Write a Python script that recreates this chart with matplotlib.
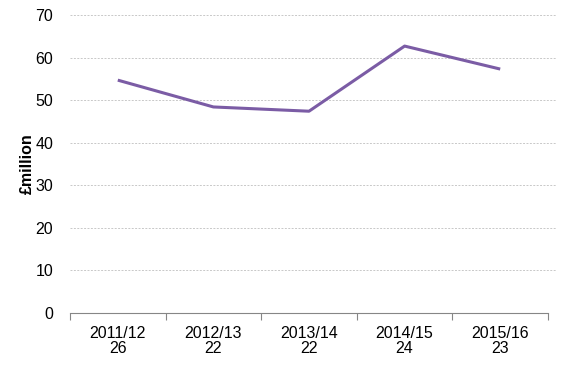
import matplotlib.pyplot as plt
import numpy as np

plt.rcParams['font.family'] = ['Liberation Sans', 'DejaVu Sans']

years = ["2011/12", "2012/13", "2013/14", "2014/15", "2015/16"]
counts = ["26", "22", "22", "24", "23"]
values = [54.7, 48.4, 47.4, 62.7, 57.3]
yticks = [0, 10, 20, 30, 40, 50, 60, 70]

fig = plt.figure(figsize=(5.73, 3.67), dpi=100)
ax = fig.add_axes([70 / 573, 1 - 313 / 367, 487 / 573, 298 / 367])

x = np.arange(len(years))
ax.plot(x, values, color="#7b5ca5", linewidth=2.2, solid_capstyle="butt")

ax.set_ylim(0, 70)
ax.set_xlim(-0.5, 4.594)
ax.set_yticks(yticks)
ax.yaxis.grid(True, color="#c8c8c8", linestyle=(0, (2, 1.5)), linewidth=0.7)
ax.set_axisbelow(True)

ax.set_xticks(np.arange(-0.5, 5.0, 1.0))
ax.set_xticklabels([])
ax.set_xticks(x, minor=True)
ax.set_xticklabels([f"{y}\n{c}" for y, c in zip(years, counts)], minor=True)
ax.tick_params(axis="x", which="major", length=5, color="#868686", direction="out")
ax.tick_params(axis="x", which="minor", length=0, pad=9, labelsize=11.5)
ax.tick_params(axis="y", length=0, pad=12, labelsize=11.5)
for lab in ax.get_xticklabels(minor=True):
    lab.set_linespacing(1.05)

for s in ["left", "right", "top"]:
    ax.spines[s].set_visible(False)
ax.spines["bottom"].set_color("#868686")
ax.spines["bottom"].set_bounds(-0.5, 4.5)

ax.set_ylabel("£million", fontsize=11.5, fontweight="bold")
ax.yaxis.set_label_coords(-0.072, 0.5)

fig.savefig("out.png", dpi=100)
